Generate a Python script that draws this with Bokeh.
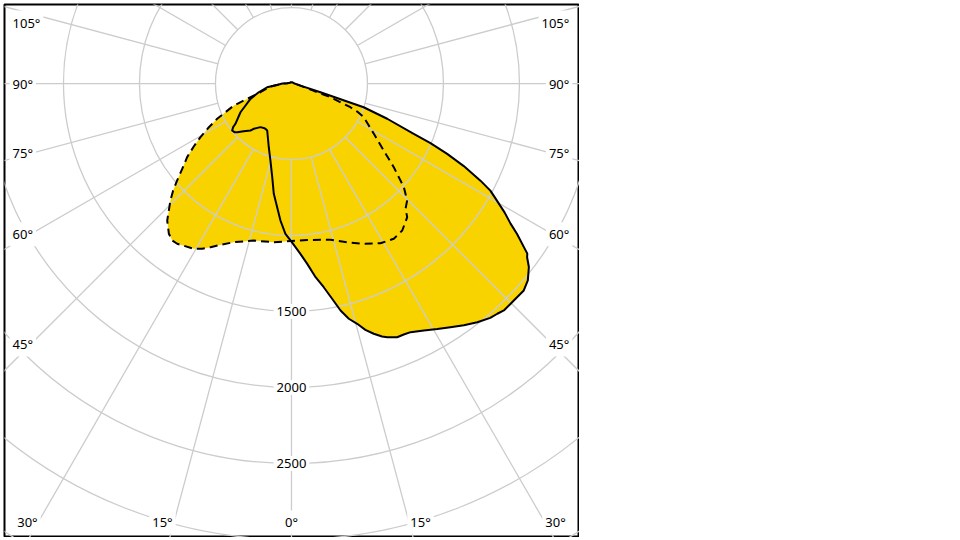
import numpy as np
from bokeh.plotting import figure
from bokeh.models import Range1d, Label
from bokeh.embed import file_html
from bokeh.resources import INLINE

# ---------------- data (candela, gamma in degrees; 0 = straight down) ----------------
solid_gamma = [-180, -150, -120, -100, -94, -90, -85, -81.3, -75.1, -69.5, -64.4, -60.6,
               -54.3, -53.2, -51.6, -49.5, -48.1, -45, -41.1, -39.8, -35.4, -31.1, -29.9,
               -27.3, -19.6, -15.3, -11.6, -9.1, -6.6, -4.6, -2.3, 0, 3, 5, 7.1, 9, 10.7,
               12.2, 13.7, 15.3, 16.7, 18.2, 19.7, 20.7, 22.6, 24.1, 25.6, 28.2, 30.7, 33.1,
               35.5, 37.9, 40.3, 41.8, 43.1, 44.8, 45.7, 48.3, 50.2, 52.3, 53.6, 54.2, 56.3,
               57.4, 58.8, 61, 61.7, 62.8, 64.4, 65.7, 66.8, 67.6, 69.8, 71.8, 73.3, 77,
               90, 120, 150]
solid_cd = [9, 9, 12, 20, 28, 60, 90, 162, 223, 288, 335, 385,
            454, 479, 498, 493, 480, 444, 410, 388, 352, 343, 344,
            348, 445, 525, 629, 735, 819, 904, 990, 1040, 1122, 1191, 1284, 1357, 1441,
            1528, 1593, 1639, 1692, 1733, 1768, 1784, 1808, 1809, 1814, 1843, 1879, 1914,
            1953, 1990, 2022, 2032, 2045, 2044, 2044, 2047, 2024, 1974, 1926, 1913, 1784,
            1711, 1640, 1521, 1486, 1398, 1257, 1124, 995, 870, 671, 500, 199, 61,
            20, 12, 9]

dashed_gamma = [-180, -150, -120, -100, -94, -90, -85, -81, -74.3, -71.5, -69.1, -64.6,
                -62.1, -59.5, -57.2, -54.8, -52, -49.7, -47.9, -46, -42.2, -39.2, -37.2,
                -35.5, -30.6, -28.4, -26.3, -23.3, -20, -13.5, -6.4, 0, 5.7, 14, 19.3,
                24.3, 29.1, 33.4, 37, 40.9, 42.3, 44.7, 47.3, 50.7, 54, 58.6, 61.5, 65,
                66.9, 68.1, 70.1, 70.6, 72, 77, 90, 120, 150]
dashed_cd = [9, 9, 12, 20, 28, 60, 90, 150, 212, 284, 406, 541,
             615, 695, 765, 840, 912, 986, 1049, 1107, 1217, 1276, 1297,
             1295, 1263, 1236, 1201, 1153, 1111, 1062, 1051, 1036, 1034, 1060, 1107,
             1157, 1203, 1223, 1211, 1163, 1115, 1082, 1006, 870, 750, 635, 579, 525,
             470, 418, 296, 272, 150, 55, 20, 12, 9]

ring_values = [500, 1000, 1500, 2000, 2500, 3000, 3500]
ray_angles = list(range(-165, 181, 15))
radial_labels = [1500, 2000, 2500]
side_labels = [45, 60, 75, 90, 105]
bottom_labels = [0, 15, 30]

# ---------------- layout constants ----------------
YELLOW = "#F9D300"
GRID = "#CCCCCC"
FONT = "Noto Sans"
FSIZE = "13px"
RAY_START = 500
RAY_END = 4200
SIDE_X_LEFT = -1855
SIDE_X_RIGHT = 1848
SIDE_DX = 1717
SIDE_Y_MAX = 401
BOTTOM_Y = -2888
BOTTOM_X = {0: 0, 15: 849, 30: 1737}


def to_xy(gamma, cd):
    g = np.radians(np.asarray(gamma, dtype=float))
    r = np.asarray(cd, dtype=float)
    return r * np.sin(g), -r * np.cos(g)


p = figure(frame_width=575, frame_height=533,
           x_range=Range1d(-1888, 1895), y_range=Range1d(-2987, 520),
           output_backend="svg", toolbar_location=None,
           x_axis_location=None, y_axis_location=None,
           min_border_left=4, min_border_top=4, min_border_right=0, min_border_bottom=0)
p.grid.visible = False
p.outline_line_color = "black"
p.outline_line_width = 2
p.background_fill_color = "white"
p.border_fill_color = "white"

# fills
sx, sy = to_xy(solid_gamma, solid_cd)
dx, dy = to_xy(dashed_gamma, dashed_cd)
p.patch(list(dx), list(dy), fill_color=YELLOW, line_color=None)
p.patch(list(sx), list(sy), fill_color=YELLOW, line_color=None)

# grid rings
for r in ring_values:
    p.circle(x=0, y=0, radius=r, fill_color=None, line_color=GRID, line_width=1.3)

# rays
ra = np.radians(ray_angles)
p.segment(x0=list(RAY_START * np.sin(ra)), y0=list(-RAY_START * np.cos(ra)),
          x1=list(RAY_END * np.sin(ra)), y1=list(-RAY_END * np.cos(ra)),
          line_color=GRID, line_width=1.3)

# outlines
p.line(list(np.append(dx, dx[0])), list(np.append(dy, dy[0])),
       line_color="black", line_width=2, line_dash="8 5", line_join="round")
p.line(list(np.append(sx, sx[0])), list(np.append(sy, sy[0])),
       line_color="black", line_width=2, line_join="round")


def add_label(x, y, text, align):
    p.add_layout(Label(x=x, y=y, text=text, text_align=align, text_baseline="middle",
                       text_font=FONT, text_font_size=FSIZE, text_color="black",
                       background_fill_color="white", padding=3))


for v in radial_labels:
    add_label(0, -v, str(v), "center")

for a in side_labels:
    t = np.radians(a)
    y = min(-SIDE_DX * np.cos(t) / np.sin(t), SIDE_Y_MAX)
    add_label(SIDE_X_LEFT, y, f"{a}°", "left")
    add_label(SIDE_X_RIGHT, y, f"{a}°", "right")

for a in bottom_labels:
    add_label(-BOTTOM_X[a], BOTTOM_Y, f"{a}°", "center")
    if a != 0:
        add_label(BOTTOM_X[a], BOTTOM_Y, f"{a}°", "center")

open("out.html", "w").write(file_html(p, INLINE))
